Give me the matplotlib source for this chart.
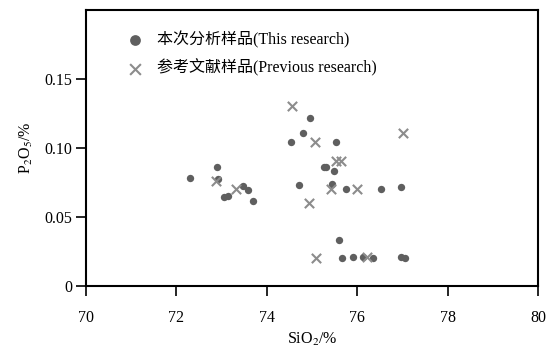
import matplotlib
matplotlib.use("Agg")
import matplotlib.pyplot as plt

plt.rcParams['font.family'] = ['Liberation Serif', 'Noto Sans CJK SC', 'DejaVu Sans']
plt.rcParams['mathtext.fontset'] = 'stix'

# This research (circles)
this_sio2 = [72.30, 72.90, 72.92, 73.05, 73.14, 73.47, 73.58, 73.69, 74.72,
             74.96, 74.79, 74.54, 75.53, 75.27, 75.32, 75.49, 75.44, 75.75,
             76.53, 76.96, 75.60, 75.67, 75.91, 76.13, 76.36, 76.98, 77.06]
this_p2o5 = [0.078, 0.086, 0.0775, 0.0645, 0.065, 0.0725, 0.0696, 0.0616, 0.0734,
             0.1215, 0.1106, 0.1046, 0.1046, 0.0865, 0.0865, 0.0836, 0.0739, 0.0705,
             0.0705, 0.0715, 0.0333, 0.020, 0.0213, 0.0213, 0.020, 0.0213, 0.020]

# Previous research (crosses)
prev_sio2 = [72.88, 73.31, 74.94, 75.09, 74.56, 75.06, 77.02, 75.53, 75.64, 75.41, 76.00, 76.22]
prev_p2o5 = [0.0763, 0.0703, 0.060, 0.0205, 0.1307, 0.1046, 0.1106, 0.0908, 0.0908, 0.070, 0.0705, 0.0213]

labels = ['本次分析样品(This research)', '参考文献样品(Previous research)']
xticks = [70, 72, 74, 76, 78, 80]
yticks = [0, 0.05, 0.10, 0.15]
yticklabels = ['0', '0.05', '0.10', '0.15']

fig = plt.figure(figsize=(5.53, 3.48), dpi=100)
ax = fig.add_axes([86/553, 62/348, 452/553, 276/348])

ax.scatter(this_sio2, this_p2o5, s=28, color='#5f5f5f', marker='o', linewidths=0,
           label=labels[0], zorder=3)
ax.scatter(prev_sio2, prev_p2o5, s=45, color='#8c8c8c', marker='x', linewidths=1.5,
           label=labels[1], zorder=3)

ax.set_xlim(70, 80)
ax.set_ylim(0, 0.2)
ax.set_xticks(xticks)
ax.set_xticklabels([str(t) for t in xticks])
ax.set_yticks(yticks)
ax.set_yticklabels(yticklabels)
ax.tick_params(direction='out', length=7, width=1.2, labelsize=11.5)
ax.tick_params(axis='x', pad=10)
ax.tick_params(axis='y', pad=3)
for sp in ax.spines.values():
    sp.set_linewidth(1.5)

ax.set_xlabel('SiO$_2$/%', fontsize=11.5, labelpad=4)
ax.set_ylabel('P$_2$O$_5$/%', fontsize=11.5, labelpad=7)

leg = ax.legend(loc='upper left', bbox_to_anchor=(0.073, 0.948), frameon=False,
                fontsize=11.5, handletextpad=0.8, labelspacing=0.7,
                borderaxespad=0, handlelength=1.2, scatterpoints=1)
leg.legend_handles[0].set_sizes([60])
leg.legend_handles[1].set_sizes([60])

fig.savefig('out.png', dpi=100)
